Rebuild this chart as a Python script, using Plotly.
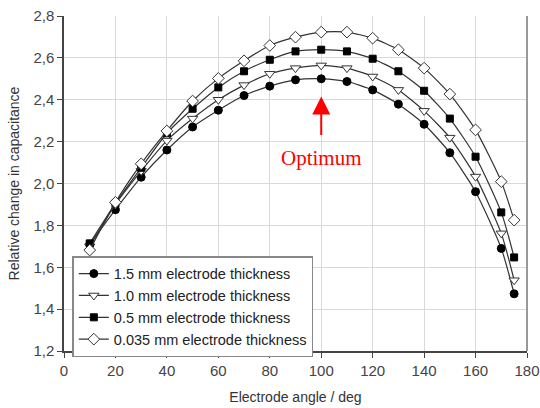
import plotly.graph_objects as go

angles = [10, 20, 30, 40, 50, 60, 70, 80, 90, 100, 110, 120, 130, 140, 150, 160, 170, 175]
s_15 = [1.71, 1.875, 2.03, 2.16, 2.27, 2.35, 2.42, 2.465, 2.495, 2.50, 2.487, 2.447, 2.379, 2.283, 2.147, 1.961, 1.69, 1.473]
s_10 = [1.70, 1.90, 2.06, 2.205, 2.31, 2.40, 2.47, 2.524, 2.551, 2.564, 2.551, 2.511, 2.447, 2.347, 2.219, 2.033, 1.762, 1.538]
s_05 = [1.714, 1.905, 2.075, 2.24, 2.357, 2.459, 2.536, 2.591, 2.631, 2.639, 2.631, 2.596, 2.536, 2.443, 2.31, 2.128, 1.862, 1.647]
s_0035 = [1.682, 1.91, 2.094, 2.251, 2.394, 2.502, 2.586, 2.659, 2.699, 2.723, 2.723, 2.694, 2.639, 2.551, 2.427, 2.256, 2.009, 1.825]

names = ["1.5 mm electrode thickness", "1.0 mm electrode thickness",
         "0.5 mm electrode thickness", "0.035 mm electrode thickness"]
x_ticks = [0, 20, 40, 60, 80, 100, 120, 140, 160, 180]
y_ticks = [1.2, 1.4, 1.6, 1.8, 2.0, 2.2, 2.4, 2.6, 2.8]
y_labels = ["1,2", "1,4", "1,6", "1,8", "2,0", "2,2", "2,4", "2,6", "2,8"]

series = [s_15, s_10, s_05, s_0035]
markers = [
    dict(symbol="circle", size=8, color="black", line=dict(color="black", width=1)),
    dict(symbol="triangle-down", size=9, color="white", line=dict(color="#333", width=1)),
    dict(symbol="square", size=7, color="black", line=dict(color="black", width=1)),
    dict(symbol="diamond", size=9, color="white", line=dict(color="#333", width=1)),
]

fig = go.Figure()
for vals, name, mk in zip(series, names, markers):
    fig.add_trace(go.Scatter(
        x=angles, y=vals, name=name, mode="lines+markers",
        line=dict(color="#333", width=1.2, shape="spline", smoothing=0.6),
        marker=mk,
    ))

fig.add_annotation(x=100, y=2.122, text="Optimum", showarrow=False,
                   font=dict(family="Liberation Serif", size=21, color="red"),
                   xanchor="center", yanchor="middle")
fig.add_annotation(x=100, y=2.416, ax=100, ay=2.224, axref="x", ayref="y",
                   xref="x", yref="y", text="", showarrow=True,
                   arrowhead=2, arrowsize=1.8, arrowwidth=2, arrowcolor="red")

fig.update_layout(
    width=540, height=408,
    margin=dict(l=64, r=13, t=16, b=57),
    paper_bgcolor="white", plot_bgcolor="white",
    font=dict(family="Liberation Sans", size=14, color="#333"),
    showlegend=True,
    legend=dict(x=0.018, y=0.283, xanchor="left", yanchor="top",
                bordercolor="#888", borderwidth=1.5, bgcolor="white",
                font=dict(size=14.5, color="#222"), tracegroupgap=0,
                itemwidth=30),
)
fig.update_xaxes(range=[0, 180], tickvals=x_ticks, ticks="outside", ticklen=5,
                 tickcolor="#444", showline=True, linecolor="#444", linewidth=1.5,
                 showgrid=True, gridcolor="#d9d9d9", gridwidth=1, zeroline=False,
                 automargin=False,
                 title=dict(text="Electrode angle / deg", font=dict(size=14, color="#333"), standoff=14),
                 tickfont=dict(size=15, color="#444"))
fig.update_yaxes(range=[1.2, 2.8], tickvals=y_ticks, ticktext=y_labels, ticks="outside",
                 ticklen=5, tickcolor="#444", showline=True, linecolor="#444", linewidth=1.5,
                 showgrid=True, gridcolor="#d9d9d9", gridwidth=1, zeroline=False,
                 automargin=False,
                 title=dict(text="Relative change in capacitance", font=dict(size=14, color="#333"), standoff=10),
                 tickfont=dict(size=15, color="#444"))
fig.add_shape(type="line", xref="paper", yref="paper", x0=1, x1=1, y0=0, y1=1,
              line=dict(color="#999", width=2))

fig.write_html("out.html")
